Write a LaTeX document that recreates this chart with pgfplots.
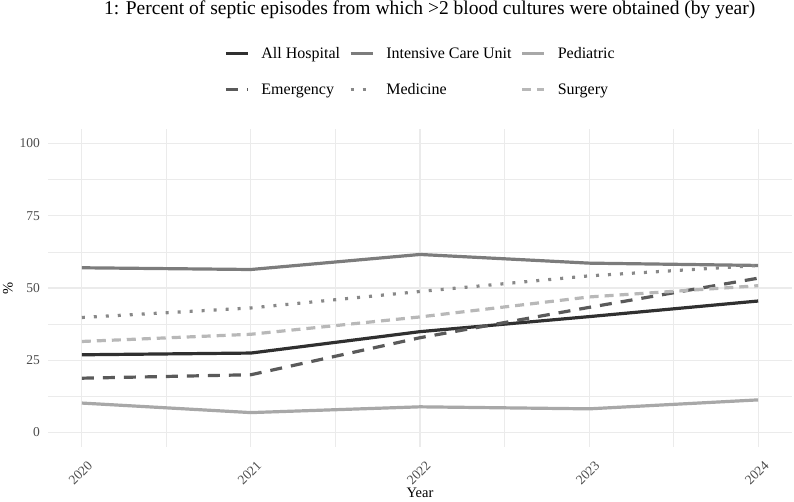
\documentclass[border=0pt]{standalone}
\usepackage{fontspec}
\setmainfont{Liberation Serif}
\usepackage{pgfplots}
\pgfplotsset{compat=1.18}
\definecolor{cAll}{HTML}{303030}
\definecolor{cICU}{HTML}{7C7C7C}
\definecolor{cPed}{HTML}{A8A8A8}
\definecolor{cEme}{HTML}{5A5A5A}
\definecolor{cMed}{HTML}{888888}
\definecolor{cSur}{HTML}{B8B8B8}
\definecolor{gridc}{HTML}{EBEBEB}
\definecolor{tickc}{HTML}{4D4D4D}
\begin{document}
\begin{tikzpicture}[x=1pt,y=1pt]
\path[use as bounding box] (0,0) rectangle (794,501);
\node[anchor=west,inner sep=0pt,font=\fontsize{19.5}{22}\selectfont] at (104,491) {1: Percent of septic episodes from which >2 blood cultures were obtained (by year)};
\begin{axis}[
  at={(48pt,54pt)}, anchor=south west,
  width=744pt, height=318pt, scale only axis,
  xmin=2019.8, xmax=2024.2, ymin=-5, ymax=105,
  xtick={2020,2021,2022,2023,2024},
  minor xtick={2020.5,2021.5,2022.5,2023.5},
  ytick={0,25,50,75,100},
  minor ytick={12.5,37.5,62.5,87.5},
  xticklabels={2020,2021,2022,2023,2024},
  /pgf/number format/assume math mode=true,
  grid=both,
  major grid style={draw=gridc, line width=1.1pt},
  minor grid style={draw=gridc, line width=0.6pt},
  axis line style={draw=none},
  major tick length=0pt, minor tick length=0pt,
  tick style={draw=none},
  xticklabel style={font=\fontsize{13.5}{15}\selectfont, text=tickc, inner sep=0pt, xshift=5pt, yshift=-13pt, rotate=45, anchor=north east},
  yticklabel style={font=\fontsize{13.5}{15}\selectfont, text=tickc, inner sep=0pt, anchor=east, xshift=-8pt},
  xlabel={Year}, ylabel={\%},
  xlabel style={font=\fontsize{14.5}{16}\selectfont, at={(axis description cs:0.5,0)}, anchor=center, yshift=-46pt},
  ylabel style={font=\fontsize{14.5}{16}\selectfont, at={(axis description cs:0,0.5)}, anchor=center, yshift=40pt},
  clip=false,
  legend columns=3,
  legend cell align=left,
  legend image code/.code={\draw[#1] (0pt,0pt) -- (22pt,0pt);},
  legend style={draw=none, fill=none, inner sep=0pt,
    at={(axis description cs:0.2366,1.256)}, anchor=north west,
    font=\fontsize{16}{18}\selectfont,
    row sep=25pt,
    /tikz/every odd column/.append style={column sep=12pt},
    /tikz/every even column/.append style={column sep=9pt},
    nodes={inner sep=0pt, text depth=0pt}},
  every axis plot/.append style={line width=3.2pt, line join=round},
]
\addplot[cAll] coordinates {(2020,26.9) (2021,27.5) (2022,34.9) (2023,40.1) (2024,45.5)};
\addlegendentry{All Hospital}
\addplot[cICU] coordinates {(2020,57.0) (2021,56.4) (2022,61.6) (2023,58.6) (2024,57.8)};
\addlegendentry{Intensive Care Unit}
\addplot[cPed] coordinates {(2020,10.2) (2021,6.9) (2022,8.9) (2023,8.2) (2024,11.3)};
\addlegendentry{Pediatric}
\addplot[cEme, dash pattern=on 12pt off 9pt] coordinates {(2020,18.8) (2021,20.0) (2022,32.8) (2023,43.3) (2024,53.4)};
\addlegendentry{Emergency}
\addplot[cMed, dash pattern=on 3pt off 9pt] coordinates {(2020,39.8) (2021,43.1) (2022,48.8) (2023,54.2) (2024,57.8)};
\addlegendentry{Medicine}
\addplot[cSur, dash pattern=on 9pt off 6pt] coordinates {(2020,31.5) (2021,34.0) (2022,40.0) (2023,46.9) (2024,50.8)};
\addlegendentry{Surgery}
\end{axis}
\end{tikzpicture}
\end{document}
